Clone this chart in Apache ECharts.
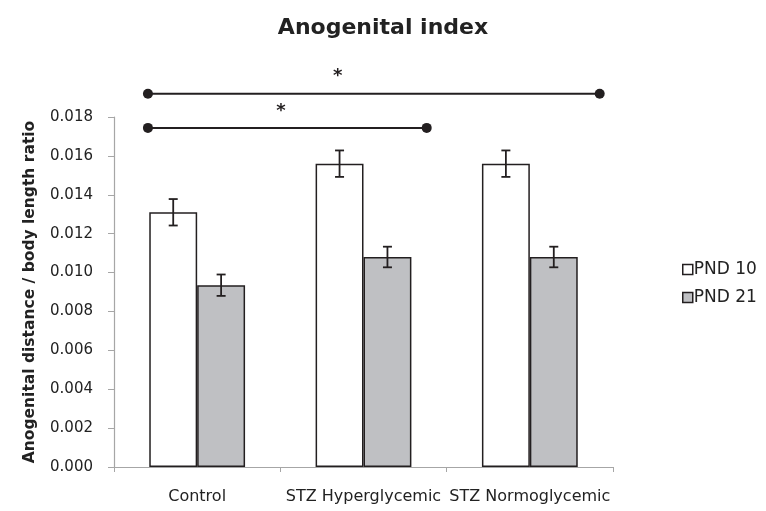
<!DOCTYPE html>
<html>
<head>
<meta charset="utf-8">
<script src="https://cdn.jsdelivr.net/npm/echarts@6/dist/echarts.min.js"></script>
<style>html,body{margin:0;padding:0;background:#fff}#c{width:766px;height:511px}</style>
</head>
<body>
<div id="c"></div>
<script>
var categories = ['Control', 'STZ Hyperglycemic', 'STZ Normoglycemic'];
var seriesNames = ['PND 10', 'PND 21'];
var pnd10 = [0.0131, 0.0156, 0.0156];
var pnd10Err = [0.00068, 0.00068, 0.00068];
var pnd21 = [0.00935, 0.0108, 0.0108];
var pnd21Err = [0.00055, 0.00053, 0.00053];
var yTicks = {min: 0, max: 0.018, interval: 0.002};
// significance brackets: [x start, x end] in category-band units, y value, star x, label
var bracketX = [[0.204, 1.88], [0.204, 2.92]];
var bracketY = [0.01744, 0.0192];
var bracketStarX = [1.003, 1.345];
var bracketLabel = ['*', '*'];

var BAR_RATIO = 0.288;
var fontFam = '"DejaVu Sans", sans-serif';
var dark = '#231f20';

function errSeries(vals, errs, side, name) {
  return {
    type: 'custom',
    name: name + ' err',
    xAxisIndex: 0,
    yAxisIndex: 0,
    z: 10,
    silent: true,
    data: vals.map(function (v, i) { return [i, v, errs[i]]; }),
    renderItem: function (params, api) {
      var i = api.value(0), v = api.value(1), e = api.value(2);
      var band = api.size([1, 0])[0];
      var off = side * band * BAR_RATIO / 2;
      var top = api.coord([i, v + e]);
      var bot = api.coord([i, v - e]);
      var x = top[0] + off;
      var cap = 4.5;
      var st = {stroke: dark, lineWidth: 1.8};
      return {type: 'group', children: [
        {type: 'line', shape: {x1: x, y1: top[1], x2: x, y2: bot[1]}, style: st},
        {type: 'line', shape: {x1: x - cap, y1: top[1], x2: x + cap, y2: top[1]}, style: st},
        {type: 'line', shape: {x1: x - cap, y1: bot[1], x2: x + cap, y2: bot[1]}, style: st}
      ]};
    }
  };
}

var chart = echarts.init(document.getElementById('c'));
chart.setOption({
  animation: false,
  backgroundColor: '#fff',
  textStyle: {fontFamily: fontFam},
  title: {
    text: 'Anogenital index', left: 'center', top: 12,
    textStyle: {fontFamily: fontFam, fontSize: 22, fontWeight: 'bold', color: '#222'}
  },
  legend: {
    data: seriesNames, orient: 'vertical', left: 677, top: 256,
    itemWidth: 10, itemHeight: 10, itemGap: 11, icon: 'rect',
    textStyle: {fontFamily: fontFam, fontSize: 17, color: '#222', padding: [0, 0, 0, -4]},
    itemStyle: {borderColor: dark, borderWidth: 1.5}
  },
  grid: {left: 114, right: 153, top: 117, bottom: 44},
  xAxis: [{
    type: 'category', data: categories,
    axisLine: {lineStyle: {color: '#a6a6a6', width: 1.2}},
    axisTick: {show: true, length: 5, lineStyle: {color: '#a6a6a6'}},
    axisLabel: {fontFamily: fontFam, fontSize: 16, color: '#222', margin: 22, interval: 0}
  }, {
    type: 'value', min: 0, max: 3, show: false
  }],
  yAxis: {
    type: 'value', min: yTicks.min, max: yTicks.max, interval: yTicks.interval,
    name: 'Anogenital distance / body length ratio', nameLocation: 'middle', nameGap: 76,
    nameTextStyle: {fontFamily: fontFam, fontSize: 15.5, fontWeight: 'bold', color: '#222'},
    axisLine: {show: true, lineStyle: {color: '#a6a6a6', width: 1.2}},
    axisTick: {show: true, length: 6, lineStyle: {color: '#a6a6a6'}},
    splitLine: {show: false},
    axisLabel: {fontFamily: fontFam, fontSize: 15, color: '#222', margin: 21,
      formatter: function (v) { return v.toFixed(3); }}
  },
  series: [
    {type: 'bar', name: seriesNames[0], data: pnd10, barWidth: (BAR_RATIO * 100) + '%', barGap: '0%',
      itemStyle: {color: '#ffffff', borderColor: dark, borderWidth: 1.5}},
    {type: 'bar', name: seriesNames[1], data: pnd21, barWidth: (BAR_RATIO * 100) + '%', barGap: '0%',
      itemStyle: {color: '#bfc0c3', borderColor: dark, borderWidth: 1.5}},
    errSeries(pnd10, pnd10Err, -1, seriesNames[0]),
    errSeries(pnd21, pnd21Err, 1, seriesNames[1]),
    {
      type: 'custom', name: 'brackets', xAxisIndex: 1, yAxisIndex: 0, clip: false, silent: true, z: 10,
      data: bracketX.map(function (b, i) { return [b[0], b[1], bracketY[i], bracketStarX[i]]; }),
      renderItem: function (params, api) {
        var a = api.coord([api.value(0), api.value(2)]);
        var b = api.coord([api.value(1), api.value(2)]);
        var s = api.coord([api.value(3), api.value(2)]);
        var st = {stroke: dark, lineWidth: 2};
        return {type: 'group', children: [
          {type: 'line', shape: {x1: a[0], y1: a[1], x2: b[0], y2: b[1]}, style: st},
          {type: 'circle', shape: {cx: a[0], cy: a[1], r: 5}, style: {fill: dark}},
          {type: 'circle', shape: {cx: b[0], cy: b[1], r: 5}, style: {fill: dark}},
          {type: 'text', style: {text: bracketLabel[params.dataIndex], x: s[0], y: a[1] - 8,
            textAlign: 'center', textVerticalAlign: 'bottom', fill: dark, fontSize: 18, fontWeight: 'bold', fontFamily: fontFam}}
        ]};
      }
    }
  ]
});
</script>
</body>
</html>
